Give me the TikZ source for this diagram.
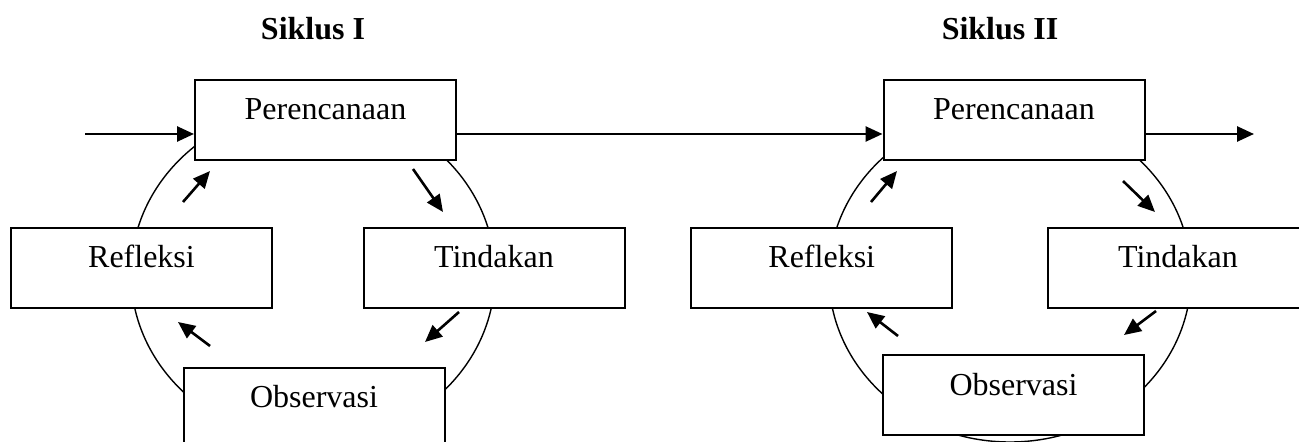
\documentclass[tikz,border=0pt]{standalone}
\usepackage{fontspec}
\setmainfont{Liberation Serif}
\usetikzlibrary{arrows.meta}

\tikzset{
  stagebox/.style={draw, fill=white, line width=1pt, inner sep=0pt,
    minimum width=130.5pt, minimum height=40pt,
    text height=10pt, text depth=10pt,
    font=\fontsize{16}{19}\selectfont},
  cycletitle/.style={anchor=base, inner sep=0pt,
    font=\fontsize{16}{19}\selectfont\bfseries},
  cycleline/.style={line width=0.7pt},
  flow/.style={line width=1.3pt, -{Triangle[length=8.5pt,width=7.5pt]}},
}

\begin{document}
\begin{tikzpicture}[x=0.5pt, y=-0.5pt]
  \useasboundingbox (0,0) rectangle (1299,442);
  \clip (0,0) rectangle (1299,442);

  % cycle rings behind the stage boxes
  \draw[cycleline] (313,274) ellipse [x radius=91pt, y radius=84pt];
  \draw[cycleline] (1010,276) ellipse [x radius=90.5pt, y radius=83pt];

  % titles
  \node[cycletitle] (s1) at (313,40) {Siklus I};
  \node[cycletitle] (s2) at (1000,40) {Siklus II};

  % cycle I
  \node[stagebox] (p1) at (325.5,120) {Perencanaan};
  \node[stagebox] (r1) at (141.5,268) {Refleksi};
  \node[stagebox] (t1) at (494,268)   {Tindakan};
  \node[stagebox] (o1) at (314,408)   {Observasi};

  % cycle II
  \node[stagebox] (p2) at (1014,120)   {Perencanaan};
  \node[stagebox] (r2) at (821.75,268) {Refleksi};
  \node[stagebox] (t2) at (1178,268)   {Tindakan};
  \node[stagebox] (o2) at (1013.5,395.5) {Observasi};

  % flow between the cycles
  \coordinate (in1) at (85,134);
  \coordinate (out2) at (1254,134);
  \draw[flow] (in1) -- ([yshift=-7pt]p1.west);
  \draw[flow] ([yshift=-7pt]p1.east) -- ([yshift=-7pt]p2.west);
  \draw[flow] ([yshift=-7pt]p2.east) -- (out2);

  % step arrows inside cycle I
  \coordinate (a1s) at (183,202);  \coordinate (a1e) at (210,171);
  \coordinate (a2s) at (413,169);  \coordinate (a2e) at (443,212);
  \coordinate (a3s) at (459,312);  \coordinate (a3e) at (425,342);
  \coordinate (a4s) at (210,346);  \coordinate (a4e) at (178,322);
  \draw[flow] (a1s) -- (a1e);
  \draw[flow] (a2s) -- (a2e);
  \draw[flow] (a3s) -- (a3e);
  \draw[flow] (a4s) -- (a4e);

  % step arrows inside cycle II
  \coordinate (b1s) at (871,202);  \coordinate (b1e) at (897,171);
  \coordinate (b2s) at (1123,181); \coordinate (b2e) at (1155,212);
  \coordinate (b3s) at (1156,311); \coordinate (b3e) at (1124,335);
  \coordinate (b4s) at (898,336);  \coordinate (b4e) at (867,312);
  \draw[flow] (b1s) -- (b1e);
  \draw[flow] (b2s) -- (b2e);
  \draw[flow] (b3s) -- (b3e);
  \draw[flow] (b4s) -- (b4e);
\end{tikzpicture}
\end{document}
